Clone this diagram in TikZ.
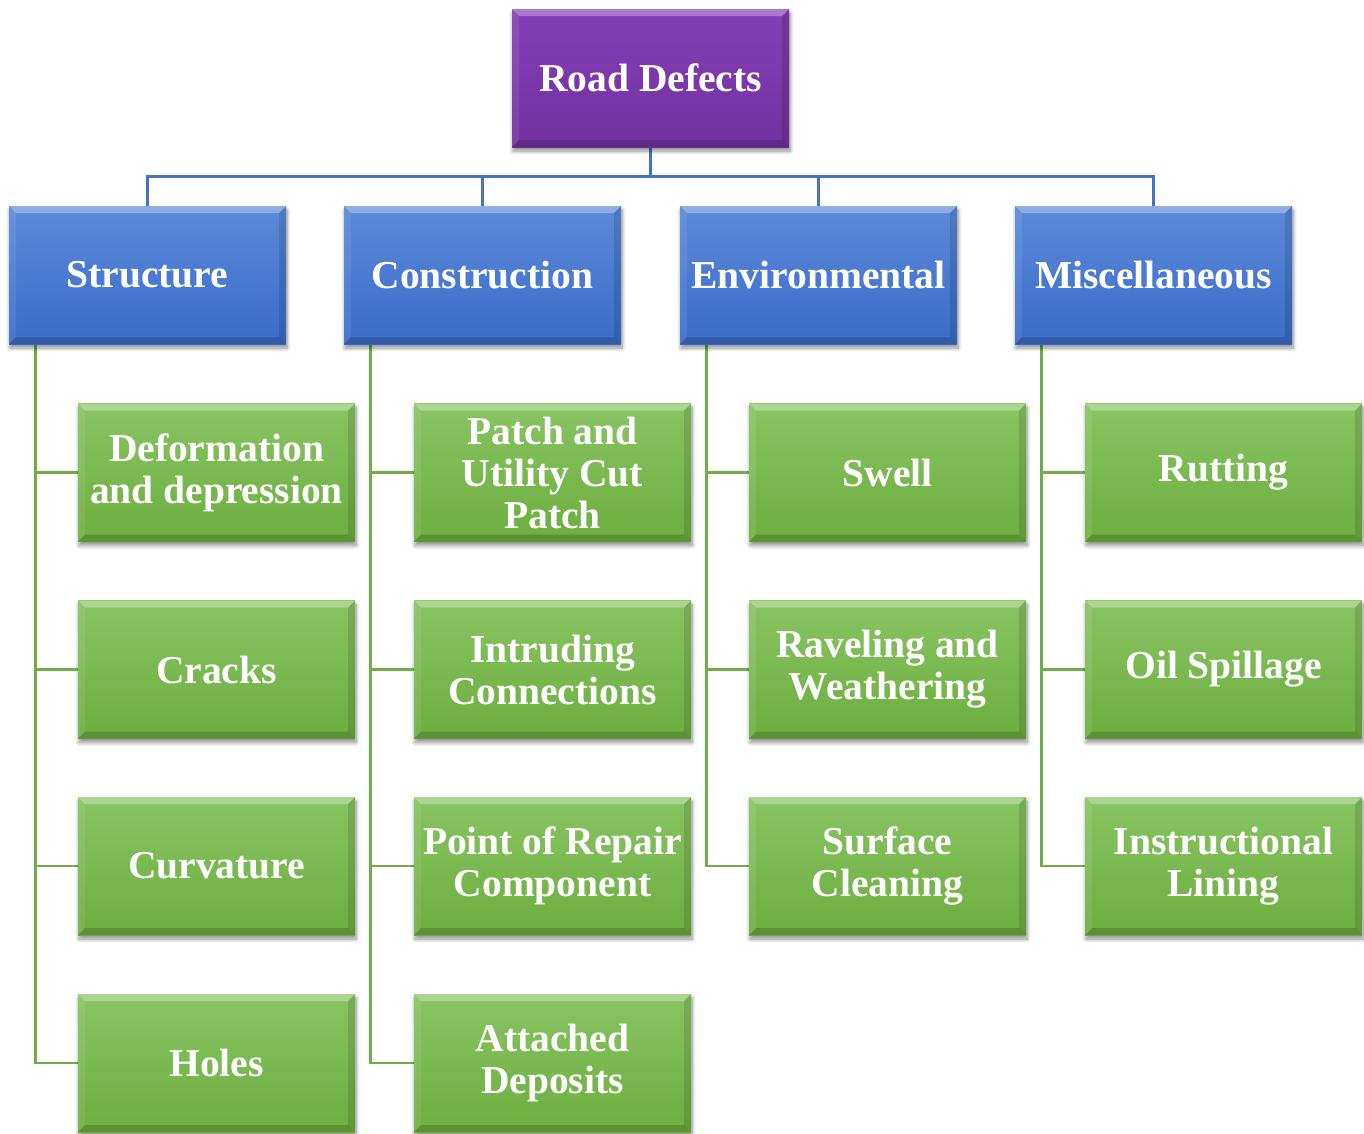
\documentclass[tikz,border=0pt]{standalone}
\usepackage{fontspec}
\setmainfont{Liberation Serif}
\usetikzlibrary{shadows.blur,backgrounds}

\definecolor{rootTop}{HTML}{853FB6}
\definecolor{rootBot}{HTML}{7231A0}
\definecolor{catTop}{HTML}{5C8AD9}
\definecolor{catBot}{HTML}{3A6BC9}
\definecolor{leafTop}{HTML}{89C463}
\definecolor{leafBot}{HTML}{6CAE3E}
\definecolor{busBlue}{HTML}{4472C4}
\definecolor{busGreen}{HTML}{70AD47}

% bevelled edges drawn inside each box
\newcommand\boxbevel{%
  \fill[white,opacity=0.3]
    (path picture bounding box.north west) -- (path picture bounding box.north east)
    -- ([shift={(-7pt,-7pt)}]path picture bounding box.north east)
    -- ([shift={(7pt,-7pt)}]path picture bounding box.north west) -- cycle;
  \fill[white,opacity=0.08]
    (path picture bounding box.north west) -- ([shift={(7pt,-7pt)}]path picture bounding box.north west)
    -- ([shift={(7pt,7pt)}]path picture bounding box.south west)
    -- (path picture bounding box.south west) -- cycle;
  \fill[black,opacity=0.12]
    (path picture bounding box.north east) -- ([shift={(-7pt,-7pt)}]path picture bounding box.north east)
    -- ([shift={(-7pt,7pt)}]path picture bounding box.south east)
    -- (path picture bounding box.south east) -- cycle;
  \fill[black,opacity=0.16]
    (path picture bounding box.south west) -- ([shift={(7pt,7pt)}]path picture bounding box.south west)
    -- ([shift={(-7pt,7pt)}]path picture bounding box.south east)
    -- (path picture bounding box.south east) -- cycle;
}

\tikzset{
  box/.style={rectangle, minimum width=277pt, minimum height=138pt, inner sep=0pt,
    text=white, align=center, font=\fontsize{39.5}{42}\selectfont\bfseries,
    blur shadow={shadow xshift=1pt, shadow yshift=-4pt, shadow blur steps=8, shadow blur radius=4pt, shadow opacity=45},
    path picture={\boxbevel}},
  rootbox/.style={box, top color=rootTop, bottom color=rootBot},
  catbox/.style={box, top color=catTop, bottom color=catBot},
  leafbox/.style={box, top color=leafTop, bottom color=leafBot},
  blueline/.style={draw=busBlue, line width=2.8pt},
  greenline/.style={draw=busGreen, line width=2.7pt},
}

\begin{document}
\begin{tikzpicture}[x=1pt, y=-1pt]
\useasboundingbox (0,0) rectangle (1364,1133);

% top of the tree
\node[rootbox] (root) at (650.5,78) {Road Defects};

% categories
\node[catbox] (c1) at (147.5,275) {Structure};
\node[catbox] (c2) at (482.5,275) {Construction};
\node[catbox] (c3) at (818.5,275) {Environmental};
\node[catbox] (c4) at (1153.5,275) {Miscellaneous};

% Structure
\node[leafbox] (s1) at (216.5,472.5) {Deformation\\and depression};
\node[leafbox] (s2) at (216.5,669.5) {Cracks};
\node[leafbox] (s3) at (216.5,866) {Curvature};
\node[leafbox] (s4) at (216.5,1063) {Holes};

% Construction
\node[leafbox] (k1) at (552.5,472.5) {Patch and\\Utility Cut\\Patch};
\node[leafbox] (k2) at (552.5,669.5) {Intruding\\Connections};
\node[leafbox] (k3) at (552.5,866) {Point of Repair\\Component};
\node[leafbox] (k4) at (552.5,1063) {Attached\\Deposits};

% Environmental
\node[leafbox] (e1) at (887.5,472.5) {Swell};
\node[leafbox] (e2) at (887.5,669.5) {Raveling and\\Weathering};
\node[leafbox] (e3) at (887.5,866) {Surface\\Cleaning};

% Miscellaneous
\node[leafbox] (m1) at (1223.5,472.5) {Rutting};
\node[leafbox] (m2) at (1223.5,669.5) {Oil Spillage};
\node[leafbox] (m3) at (1223.5,866) {Instructional\\Lining};

\begin{scope}[on background layer]
  % blue bus from the root to the categories
  \foreach \c in {c1,c2,c3,c4}
    \draw[blueline] (root.south) -- ++(0,29) -| (\c.north);
  % green side rails down to each leaf
  \foreach \c/\l in {c1/s1,c1/s2,c1/s3,c1/s4,
                     c2/k1,c2/k2,c2/k3,c2/k4,
                     c3/e1,c3/e2,c3/e3,
                     c4/m1,c4/m2,c4/m3}
    \draw[greenline] ([xshift=27pt]\c.south west) |- (\l.west);
\end{scope}
\end{tikzpicture}
\end{document}
